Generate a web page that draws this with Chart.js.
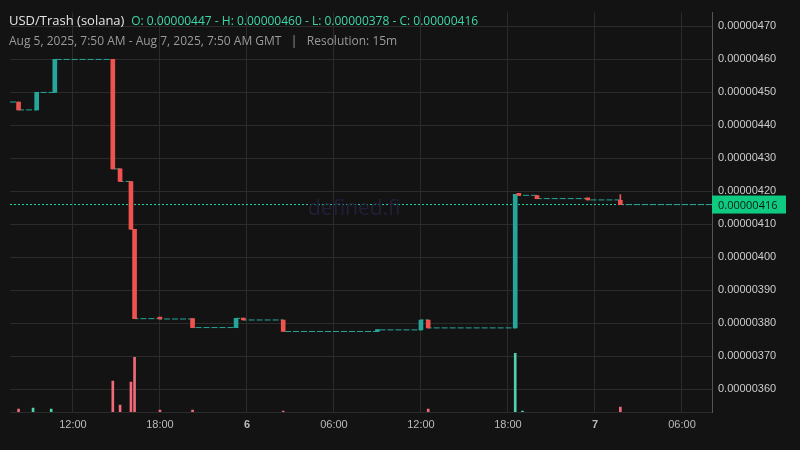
<!DOCTYPE html>
<html><head><meta charset="utf-8">
<script src="https://cdn.jsdelivr.net/npm/chart.js@4.4.0/dist/chart.umd.min.js"></script>
<style>
html,body{margin:0;background:#131313;width:800px;height:450px;overflow:hidden;font-family:"Open Sans","Noto Sans",sans-serif}
#wrap{position:absolute;left:0;top:0;width:800px;height:450px}
#h1{position:absolute;left:9px;top:11px;font-size:13px;color:#e6e6e6;white-space:nowrap}
#h1 span{color:#3fd6a8;font-size:12px}
#h2{position:absolute;left:9px;top:32px;font-size:12px;color:#9a9a9a;white-space:nowrap}
#wm{position:absolute;left:308px;top:193px;font-size:21px;color:#231f3a;}
</style></head><body>
<div id="wrap"><canvas id="c" width="800" height="450"></canvas></div>
<div id="wm">defined.fi</div>
<div id="h1">USD/Trash (solana) &nbsp;<span>O: 0.00000447 - H: 0.00000460 - L: 0.00000378 - C: 0.00000416</span></div>
<div id="h2">Aug 5, 2025, 7:50 AM - Aug 7, 2025, 7:50 AM GMT &nbsp; | &nbsp; Resolution: 15m</div>
<script>
// hours since Aug 5 00:00 GMT; prices in units of 1e-8
const candleTimes = [8.25, 9.5, 10.75, 14.75, 15.25, 16.0, 16.25, 18.0, 20.25, 23.25, 23.75, 26.5, 33.0, 36.0, 36.5, 42.5, 42.75, 44.0, 47.5, 49.75];
const opens  = [447.1, 444.7, 450.0, 460.0, 426.8, 423.0, 408.5, 381.4, 381.4, 378.7, 381.5, 381.0, 377.5, 378.0, 381.0, 378.6, 419.1, 418.7, 417.8, 417.3];
const closes = [444.7, 450.0, 460.0, 426.8, 423.0, 408.5, 381.4, 381.3, 378.7, 381.5, 381.0, 377.5, 378.0, 381.0, 378.6, 419.1, 418.8, 417.8, 417.4, 416.0];
const highs  = [447.1, 450.0, 460.0, 460.0, 426.8, 423.0, 408.5, 381.4, 381.4, 381.5, 381.5, 381.0, 378.0, 381.0, 381.0, 419.1, 419.1, 418.7, 417.8, 419.0];
const lows   = [444.7, 444.7, 450.0, 426.8, 423.0, 408.5, 381.4, 381.3, 378.7, 378.7, 381.0, 377.5, 377.5, 378.0, 378.6, 378.6, 418.8, 417.8, 417.4, 416.0];
const volTimes = [8.25, 9.25, 10.5, 14.75, 15.25, 16.0, 16.25, 18.0, 20.25, 26.5, 36.5, 42.5, 43.0, 49.75];
const volumes  = [3, 4, 3, 31, 7, 30, 55, 2, 2, 1, 3, 59, 1, 5];
const volUp    = [false, true, true, false, false, false, false, false, false, false, false, true, true, false];
const startTime = 7.66, endTime = 56.07, startPrice = 447.1, lastPrice = 416.0;
const priceTicks = [360, 370, 380, 390, 400, 410, 420, 430, 440, 450, 460, 470];

const GREEN = '#26a69a', RED = '#ef5350';
const fmt = v => (v * 1e-8).toFixed(8);
const candleData = candleTimes.map((t, i) => ({x: t, y: [opens[i], closes[i]]}));
const candleCol = candleTimes.map((t, i) => closes[i] >= opens[i] ? GREEN : RED);
const wickData = candleTimes.map((t, i) => ({x: t, y: [lows[i], highs[i]]}));
const stepData = [{x: startTime, y: startPrice}].concat(candleTimes.map((t, i) => ({x: t, y: closes[i]})), [{x: endTime, y: lastPrice}]);
const volData = volTimes.map((t, i) => ({x: t, y: volumes[i]}));

const lastLabel = {
  id: 'lastLabel',
  afterDraw(ch) {
    const y = ch.scales.y.getPixelForValue(lastPrice), x = ch.chartArea.right;
    const c = ch.ctx; c.save();
    c.fillStyle = '#0ecb81'; c.fillRect(x, y - 9, 74, 18);
    c.fillStyle = '#0b1a14'; c.font = '11px "Open Sans"'; c.textBaseline = 'middle';
    c.fillText(fmt(lastPrice), x + 6, y + 1); c.restore();
  }
};

new Chart(document.getElementById('c'), {
  data: {datasets: [
    {type: 'line', data: [{x: startTime, y: lastPrice}, {x: endTime, y: lastPrice}], borderColor: '#1fd6a6', borderWidth: 1, borderDash: [2, 2], pointRadius: 0, order: 5},
    {type: 'line', data: stepData, stepped: 'before', borderColor: GREEN, borderWidth: 1, borderDash: [6, 2], pointRadius: 0, order: 4},
    {type: 'bar', data: wickData, backgroundColor: candleCol, barThickness: 1, grouped: false, order: 3},
    {type: 'bar', data: candleData, backgroundColor: candleCol, barThickness: 4, grouped: false, order: 2, minBarLength: 2},
    {type: 'bar', data: volData, yAxisID: 'v', backgroundColor: volUp.map(u => u ? '#4fd1b0' : '#f06a78'), barThickness: 2, grouped: false, order: 1}
  ]},
  options: {
    responsive: false, animation: false,
    layout: {padding: {left: 10, top: 10, right: 0, bottom: 0}},
    plugins: {legend: {display: false}, tooltip: {enabled: false}},
    scales: {
      x: {type: 'linear', min: startTime, max: endTime, offset: false,
        afterBuildTicks: s => { const t = []; for (let h = 12; h < endTime; h += 6) t.push({value: h}); s.ticks = t; },
        ticks: {color: '#bbbbbb', maxRotation: 0, padding: 6,
          font: c => ({size: 11, weight: (c.tick && c.tick.value % 24 === 0) ? 'bold' : 'normal'}),
          callback: v => v % 24 === 0 ? String(5 + v / 24) : String(v % 24).padStart(2, '0') + ':00'},
        grid: {color: '#2b2b2b', drawTicks: false, offset: false}, border: {color: '#2b2b2b'},
        afterFit: s => { s.height = 38; }},
      y: {position: 'right', min: 353.1, max: 474.2,
        afterBuildTicks: s => { s.ticks = priceTicks.map(v => ({value: v})); },
        ticks: {color: '#cccccc', font: {size: 11}, padding: 6, callback: v => fmt(v)},
        grid: {color: '#2b2b2b', drawTicks: false}, border: {color: '#555'},
        afterFit: s => { s.width = 88; }},
      v: {display: false, min: 0, max: 402}
    }
  },
  plugins: [lastLabel]
});
</script></body></html>
